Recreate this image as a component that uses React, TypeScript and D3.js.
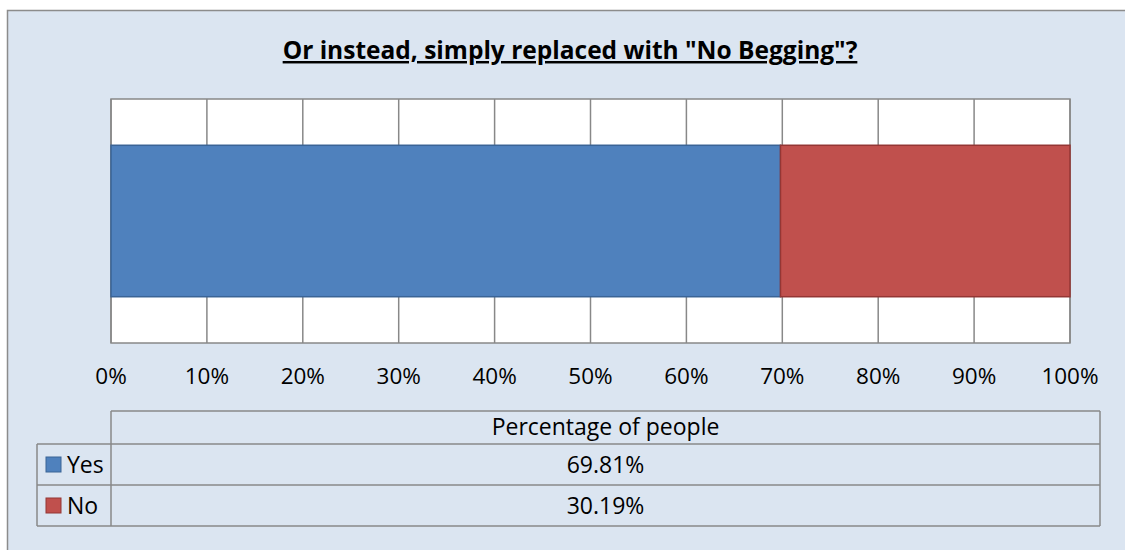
import * as d3 from "d3";

const categories = ["Yes", "No"];
const values = [69.81, 30.19];
const colors = ["#4f81bd", "#c0504d"];
const strokes = ["#3a6496", "#943634"];
const tickValues = [0, 10, 20, 30, 40, 50, 60, 70, 80, 90, 100];
const seriesName = "Percentage of people";
const title = 'Or instead, simply replaced with "No Begging"?';

const W = 1125;
const H = 550;
const FONT = "'Open Sans', 'Liberation Sans', sans-serif";

export default function App() {
  const plot = { left: 111, right: 1070, top: 99, bottom: 343 };
  const x = d3.scaleLinear().domain([0, 100]).range([plot.left, plot.right]);
  const y = d3
    .scaleBand<string>()
    .domain([seriesName])
    .range([plot.top, plot.bottom])
    .paddingInner(0.234)
    .paddingOuter(0.234);

  const stacked = d3.cumsum(values);
  const starts = values.map((v, i) => stacked[i] - v);

  // data table geometry
  const tbl = { legendLeft: 37, left: 111, right: 1100, rows: [411, 444, 485, 526] };
  const midX = (tbl.left + tbl.right) / 2;
  const grid = "#888888";

  return (
    <svg
      width={W}
      height={H}
      style={{ position: "absolute", left: 0, top: 0, display: "block", overflow: "hidden" }}
      fontFamily={FONT}
    >
      {/* chart area: only left and top edges are inside the picture */}
      <rect x={7.5} y={10.5} width={W - 7.5} height={H - 10.5} fill="#dbe5f1" />
      <path d={`M7.5,${H}V10.5H${W}`} fill="none" stroke="#8c8c8c" strokeWidth={1.5} />

      {/* Title */}
      <text
        x={570}
        y={59}
        textAnchor="middle"
        fontSize={24.5}
        fontWeight="bold"
        textDecoration="underline"
        fill="#000"
      >
        {title}
      </text>

      {/* Plot area */}
      <rect x={plot.left} y={plot.top} width={plot.right - plot.left} height={plot.bottom - plot.top} fill="#fff" />
      {tickValues.map((t) => (
        <line key={t} x1={x(t)} x2={x(t)} y1={plot.top} y2={plot.bottom} stroke={grid} strokeWidth={1.5} />
      ))}
      <rect
        x={plot.left}
        y={plot.top}
        width={plot.right - plot.left}
        height={plot.bottom - plot.top}
        fill="none"
        stroke={grid}
        strokeWidth={1.5}
      />

      {/* Bars */}
      {values.map((v, i) => (
        <rect
          key={categories[i]}
          x={x(starts[i])}
          y={y(seriesName)}
          width={x(starts[i] + v) - x(starts[i])}
          height={y.bandwidth()}
          fill={colors[i]}
          stroke={strokes[i]}
          strokeWidth={1.5}
        />
      ))}

      {/* Tick labels */}
      {tickValues.map((t) => (
        <text key={t} x={x(t)} y={384} textAnchor="middle" fontSize={22.5} fill="#000">
          {`${t}%`}
        </text>
      ))}

      {/* Data table */}
      <g stroke={grid} strokeWidth={1.5} fill="none">
        <line x1={tbl.left} x2={tbl.right} y1={tbl.rows[0]} y2={tbl.rows[0]} />
        {tbl.rows.slice(1).map((r) => (
          <line key={r} x1={tbl.legendLeft} x2={tbl.right} y1={r} y2={r} />
        ))}
        <line x1={tbl.left} x2={tbl.left} y1={tbl.rows[0]} y2={tbl.rows[3]} />
        <line x1={tbl.right} x2={tbl.right} y1={tbl.rows[0]} y2={tbl.rows[3]} />
        <line x1={tbl.legendLeft} x2={tbl.legendLeft} y1={tbl.rows[1]} y2={tbl.rows[3]} />
      </g>
      <text x={midX} y={435} textAnchor="middle" fontSize={23} fill="#000">
        {seriesName}
      </text>
      {categories.map((c, i) => {
        const top = tbl.rows[i + 1];
        const bottom = tbl.rows[i + 2];
        const cy = (top + bottom) / 2;
        return (
          <g key={c}>
            <rect x={46} y={cy - 7.5} width={15} height={15} fill={colors[i]} stroke={strokes[i]} strokeWidth={1} />
            <text x={67} y={cy + 8} fontSize={23} fill="#000">
              {c}
            </text>
            <text x={midX} y={cy + 8} textAnchor="middle" fontSize={23} fill="#000">
              {`${values[i].toFixed(2)}%`}
            </text>
          </g>
        );
      })}
    </svg>
  );
}
